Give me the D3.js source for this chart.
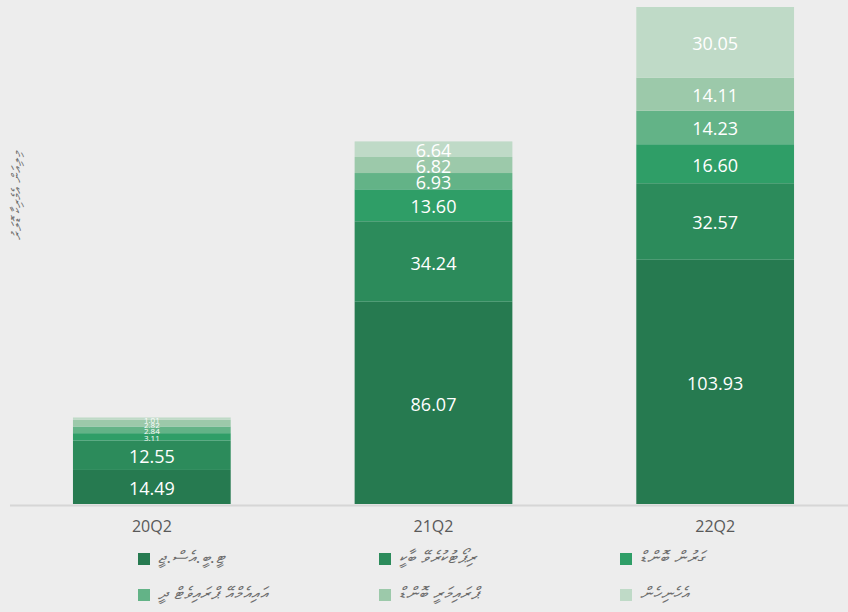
<!DOCTYPE html>
<html>
<head>
<meta charset="utf-8">
<script src="https://cdn.jsdelivr.net/npm/d3@7"></script>
<style>
  body { margin: 0; background: #ededed; }
  svg { display: block; }
  .seg-label { fill: #fff; font-family: "Open Sans", sans-serif; }
  .cat-label { fill: #595959; font-family: "Open Sans", sans-serif; font-size: 16px; }
  .legend-text { fill: #6b6b6b; font-size: 17px; font-style: italic; letter-spacing: 1px; }
  .axis-title { fill: #6b6b6b; font-size: 13px; font-style: italic; letter-spacing: 1px; }
</style>
</head>
<body>
<div class="chart"></div>
<script>
var quarters = ["20Q2", "21Q2", "22Q2"];
var seriesNames = [
  "ޓީ.ބީ.އެސް.ޖީ",
  "ރިޕޯޓުކުރެވޭ ބާކީ",
  "ގަރުން ބޮންޑް",
  "އައިއެމްއޭ ޕްރައިވެޓް ދީ",
  "ޕްރައިމަރީ ބޮންޑް",
  "އެހެނިހެން"
];
var s1 = [14.49, 86.07, 103.93];
var s2 = [12.55, 34.24, 32.57];
var s3 = [3.11, 13.60, 16.60];
var s4 = [2.84, 6.93, 14.23];
var s5 = [2.82, 6.82, 14.11];
var s6 = [1.01, 6.64, 30.05];
var axisTitle = "މިލިއަން އެމެރިކާ ޑޮލަރު";

var colors = ["#267a50", "#2c8b5b", "#2f9e67", "#63b387", "#9cc9aa", "#bfdac7"];

var svgWidth = 848;
var svgHeight = 612;
var baseY = 505;

var allSeries = [s1, s2, s3, s4, s5, s6];
var rows = quarters.map(function(q, i) {
  var r = {quarter: q};
  allSeries.forEach(function(s, k) { r["k" + k] = s[i]; });
  return r;
});
var keys = allSeries.map(function(s, k) { return "k" + k; });
var stacked = d3.stack().keys(keys)(rows);

var svg = d3.select(".chart")
            .append("svg")
            .attr("width", svgWidth)
            .attr("height", svgHeight);

var x = d3.scaleBand()
          .domain(quarters)
          .range([11, 856])
          .paddingInner(0.44)
          .paddingOuter(0.22);

var maxTotal = d3.max(stacked[stacked.length - 1], function(d) { return d[1]; });
var y = d3.scaleLinear()
          .domain([0, maxTotal])
          .range([baseY - 1, 7]);

var layers = svg.selectAll("g.layer")
    .data(stacked)
    .enter()
    .append("g")
    .attr("class", "layer")
    .attr("fill", function(d, i) { return colors[i]; });

layers.selectAll("rect")
    .data(function(d) { return d; })
    .enter()
    .append("rect")
    .attr("x", function(d) { return x(d.data.quarter); })
    .attr("width", x.bandwidth())
    .attr("y", function(d) { return y(d[1]); })
    .attr("height", function(d) { return y(d[0]) - y(d[1]); });

layers.selectAll("text")
    .data(function(d) { return d; })
    .enter()
    .append("text")
    .attr("class", "seg-label")
    .attr("text-anchor", "middle")
    .attr("dominant-baseline", "central")
    .attr("x", function(d) { return x(d.data.quarter) + x.bandwidth() / 2; })
    .attr("y", function(d) { return (y(d[0]) + y(d[1])) / 2 + 1; })
    .attr("font-size", function(d) {
      return (y(d[0]) - y(d[1])) >= 12 ? "18px" : "8px";
    })
    .text(function(d) { return (d[1] - d[0]).toFixed(2); });

// baseline
svg.append("line")
    .attr("x1", 10).attr("x2", svgWidth)
    .attr("y1", baseY + 0.5).attr("y2", baseY + 0.5)
    .attr("stroke", "#d6d6d6")
    .attr("stroke-width", 2);

var xAxis = svg.append("g")
    .attr("transform", "translate(0," + baseY + ")")
    .call(d3.axisBottom(x).tickSize(0).tickPadding(16));
xAxis.select(".domain").remove();
xAxis.selectAll("text").attr("class", "cat-label").attr("fill", null).attr("font-size", null).attr("font-family", null);

// axis title
svg.append("text")
    .attr("class", "axis-title")
    .attr("transform", "translate(21,195) rotate(-90)")
    .attr("text-anchor", "middle")
    .text(axisTitle);

// legend
var legend = svg.selectAll("g.legend")
    .data(seriesNames)
    .enter()
    .append("g")
    .attr("class", "legend")
    .attr("transform", function(d, i) {
      return "translate(" + (138 + (i % 3) * 241) + "," + (553 + Math.floor(i / 3) * 36) + ")";
    });

legend.append("rect")
    .attr("width", 12)
    .attr("height", 12)
    .attr("fill", function(d, i) { return colors[i]; });

legend.append("text")
    .attr("class", "legend-text")
    .attr("x", 20)
    .attr("y", 10)
    .text(function(d) { return d; });
</script>
</body>
</html>
